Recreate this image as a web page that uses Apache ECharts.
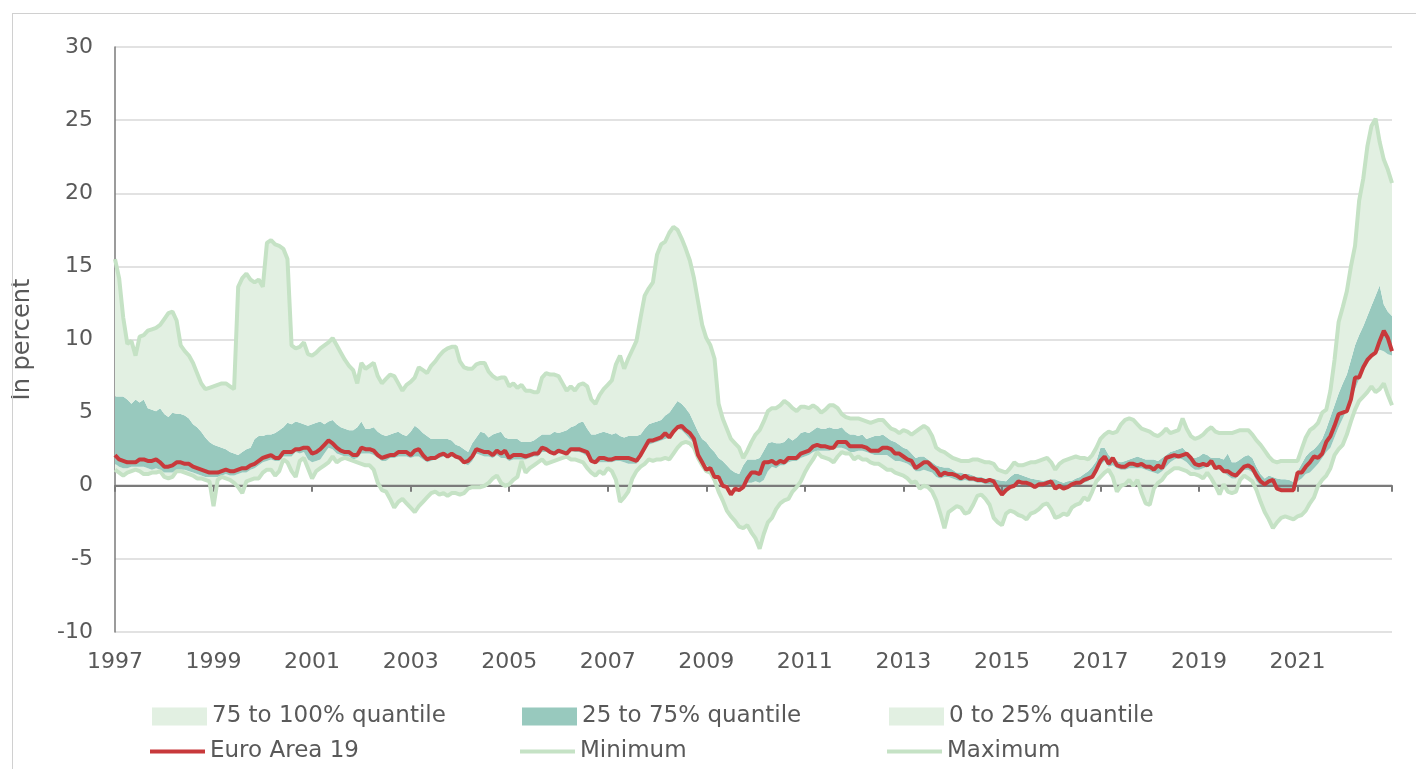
<!DOCTYPE html>
<html><head><meta charset="utf-8">
<script src="https://cdn.jsdelivr.net/npm/echarts@6/dist/echarts.min.js"></script>
<style>html,body{margin:0;padding:0;background:#fff}#c{position:absolute;left:0;top:0;width:1416px;height:769px}
#frame{position:absolute;left:12px;top:13px;width:1420px;height:780px;border-left:1px solid #d0d0d0;border-top:1px solid #d0d0d0;pointer-events:none}</style>
</head><body><div id="c"></div><div id="frame"></div>
<script>
// Monthly data, Jan 1997 .. Dec 2022
const firstYear = 1997, lastYear = 2022;
const yAxisMin = -10, yAxisMax = 30, yAxisStep = 5;

const euroArea = [
2.1,1.8,1.7,1.6,1.6,1.6,1.8,1.8,1.7,1.7,1.8,1.6,
1.3,1.3,1.4,1.6,1.6,1.5,1.5,1.3,1.2,1.1,1.0,0.9,
0.9,0.9,1.0,1.1,1.0,1.0,1.1,1.2,1.2,1.4,1.5,1.7,
1.9,2.0,2.1,1.9,1.9,2.3,2.3,2.3,2.5,2.5,2.6,2.6,
2.2,2.3,2.5,2.8,3.1,2.9,2.6,2.4,2.3,2.3,2.1,2.1,
2.6,2.5,2.5,2.4,2.1,1.9,2.0,2.1,2.1,2.3,2.3,2.3,
2.1,2.4,2.5,2.1,1.8,1.9,1.9,2.1,2.2,2.0,2.2,2.0,
1.9,1.6,1.7,2.0,2.5,2.4,2.3,2.3,2.1,2.4,2.2,2.4,
1.9,2.1,2.1,2.1,2.0,2.1,2.2,2.2,2.6,2.5,2.3,2.2,
2.4,2.3,2.2,2.5,2.5,2.5,2.4,2.3,1.7,1.6,1.9,1.9,
1.8,1.8,1.9,1.9,1.9,1.9,1.8,1.7,2.1,2.6,3.1,3.1,
3.2,3.3,3.6,3.3,3.7,4.0,4.1,3.8,3.6,3.2,2.1,1.6,
1.1,1.2,0.6,0.6,0.0,-0.1,-0.6,-0.2,-0.3,-0.1,0.5,0.9,
0.9,0.8,1.6,1.6,1.7,1.5,1.7,1.6,1.9,1.9,1.9,2.2,
2.3,2.4,2.7,2.8,2.7,2.7,2.6,2.6,3.0,3.0,3.0,2.7,
2.7,2.7,2.7,2.6,2.4,2.4,2.4,2.6,2.6,2.5,2.2,2.2,
2.0,1.8,1.7,1.2,1.4,1.6,1.6,1.3,1.1,0.7,0.9,0.8,
0.8,0.7,0.5,0.7,0.5,0.5,0.4,0.4,0.3,0.4,0.3,-0.2,
-0.6,-0.3,-0.1,0.0,0.3,0.2,0.2,0.1,-0.1,0.1,0.1,0.2,
0.3,-0.2,0.0,-0.2,-0.1,0.1,0.2,0.2,0.4,0.5,0.6,1.1,
1.7,2.0,1.5,1.9,1.4,1.3,1.3,1.5,1.5,1.4,1.5,1.3,
1.3,1.1,1.4,1.2,1.9,2.0,2.1,2.0,2.1,2.2,1.9,1.5,
1.4,1.5,1.4,1.7,1.2,1.3,1.0,1.0,0.8,0.7,1.0,1.3,
1.4,1.2,0.7,0.3,0.1,0.3,0.4,-0.2,-0.3,-0.3,-0.3,-0.3,
0.9,0.9,1.3,1.6,2.0,1.9,2.2,3.0,3.4,4.1,4.9,5.0,
5.1,5.9,7.4,7.4,8.1,8.6,8.9,9.1,9.9,10.6,10.1,9.2
];

const minimum = [
1.1,0.9,0.7,0.9,1.0,1.1,1.0,0.8,0.8,0.9,0.9,1.0,
0.6,0.5,0.6,1.0,1.0,0.9,0.8,0.7,0.5,0.5,0.4,0.3,
-1.4,0.4,0.6,0.5,0.4,0.2,-0.1,-0.5,0.3,0.4,0.5,0.5,
0.9,1.1,1.1,0.7,1.0,1.8,1.6,1.0,0.6,1.7,1.9,1.2,
0.5,1.0,1.2,1.4,1.6,2.0,1.6,1.8,1.9,1.8,1.7,1.6,
1.5,1.4,1.4,1.1,0.2,-0.3,-0.4,-0.9,-1.5,-1.1,-0.9,-1.2,
-1.5,-1.8,-1.4,-1.1,-0.8,-0.5,-0.4,-0.6,-0.5,-0.7,-0.5,-0.5,
-0.6,-0.5,-0.2,-0.1,-0.1,-0.1,0.0,0.2,0.5,0.7,0.2,0.0,
0.1,0.4,0.6,1.7,0.9,1.2,1.4,1.6,1.8,1.5,1.6,1.7,
1.8,1.9,2.0,1.8,1.8,1.7,1.6,1.2,0.9,0.7,1.0,0.8,
1.2,1.0,0.4,-1.1,-0.8,-0.4,0.5,1.0,1.3,1.5,1.8,1.7,
1.8,1.8,1.9,1.8,2.2,2.6,2.9,3.0,2.9,2.6,1.9,1.4,
1.0,0.9,0.4,-0.4,-1.0,-1.7,-2.1,-2.4,-2.8,-2.9,-2.7,-3.2,
-3.6,-4.3,-3.3,-2.5,-2.2,-1.6,-1.2,-1.0,-0.9,-0.4,-0.1,0.3,
0.9,1.4,1.8,2.3,2.0,1.9,1.8,1.6,2.0,2.3,2.2,2.2,
1.8,2.0,1.8,1.8,1.6,1.5,1.5,1.3,1.1,1.1,0.9,0.8,
0.7,0.5,0.2,0.3,-0.2,0.0,-0.1,-0.4,-1.0,-1.9,-2.9,-1.8,
-1.6,-1.4,-1.5,-1.9,-1.8,-1.3,-0.7,-0.6,-0.9,-1.3,-2.2,-2.5,
-2.7,-1.9,-1.7,-1.8,-2.0,-2.1,-2.3,-1.9,-1.8,-1.6,-1.3,-1.2,
-1.6,-2.2,-2.1,-1.9,-2.0,-1.5,-1.3,-1.2,-0.8,-1.0,-0.4,0.3,
0.6,0.9,1.1,0.6,-0.4,0.0,0.1,0.4,0.0,0.4,-0.5,-1.2,
-1.3,-0.2,0.2,0.4,0.8,1.0,1.2,1.2,1.1,1.0,0.8,0.8,
0.7,0.5,0.9,0.5,0.0,-0.6,0.1,-0.4,-0.5,-0.4,0.4,0.7,
0.5,0.3,-0.3,-1.1,-1.8,-2.3,-2.9,-2.5,-2.2,-2.1,-2.2,-2.3,
-2.1,-2.0,-1.7,-1.2,-0.8,0.0,0.4,0.7,1.2,2.1,2.5,2.8,
3.5,4.4,5.2,5.8,6.1,6.4,6.8,6.4,6.6,7.0,6.2,5.5
];

const quantile25 = [
1.5,1.3,1.2,1.2,1.3,1.3,1.3,1.3,1.2,1.1,1.2,1.1,
0.9,0.9,0.9,1.1,1.1,1.1,1.0,0.9,0.8,0.7,0.6,0.6,
0.6,0.6,0.7,0.8,0.7,0.7,0.8,0.9,0.9,1.1,1.2,1.4,
1.6,1.7,1.8,1.7,1.7,2.0,2.0,2.0,2.3,2.2,2.3,1.8,
1.6,1.7,1.8,2.2,2.6,2.5,2.2,2.1,2.0,2.0,1.8,1.9,
2.2,2.2,2.2,2.1,1.9,1.7,1.7,1.9,1.9,2.0,2.0,2.0,
1.9,2.0,2.0,1.8,1.6,1.7,1.8,1.9,2.0,1.9,2.0,1.9,
1.7,1.5,1.4,1.7,2.2,2.1,2.0,2.0,1.9,2.1,1.9,1.9,
1.7,1.8,1.8,1.8,1.8,1.9,2.0,2.0,2.3,2.3,2.2,2.1,
2.2,2.2,2.2,2.4,2.3,2.3,2.2,2.0,1.6,1.5,1.6,1.6,
1.6,1.6,1.7,1.7,1.6,1.5,1.5,1.5,1.9,2.4,2.8,2.9,
3.0,3.1,3.2,3.3,3.6,3.9,3.8,3.5,3.2,2.9,2.3,1.8,
1.4,1.1,0.7,0.4,0.1,0.1,0.0,-0.1,-0.1,0.1,0.2,0.2,
0.3,0.2,0.4,1.0,1.3,1.2,1.4,1.4,1.6,1.7,1.7,1.9,
2.0,2.1,2.3,2.4,2.4,2.4,2.4,2.5,2.6,2.6,2.5,2.3,
2.3,2.4,2.4,2.3,2.2,2.1,2.1,2.1,2.1,1.9,1.7,1.7,
1.6,1.5,1.3,1.0,1.0,1.1,1.0,0.9,0.6,0.5,0.6,0.6,
0.5,0.4,0.3,0.4,0.3,0.3,0.2,0.2,0.1,0.1,0.0,-0.3,
-0.6,-0.3,-0.1,-0.1,0.1,0.1,0.0,-0.1,-0.2,-0.1,-0.1,0.0,
0.0,-0.3,-0.2,-0.3,-0.2,-0.1,0.0,0.1,0.2,0.3,0.6,0.9,
1.4,1.7,1.3,1.4,1.2,1.1,1.1,1.2,1.2,1.2,1.2,1.1,
1.0,0.9,0.8,1.0,1.3,1.6,1.8,1.9,1.8,1.6,1.3,1.1,
1.1,1.2,1.3,1.4,1.1,1.1,0.9,0.7,0.5,0.5,0.9,1.1,
1.1,0.9,0.3,0.0,-0.1,0.0,0.0,-0.2,-0.3,-0.3,-0.3,-0.3,
0.3,0.5,0.8,0.9,1.2,1.5,1.9,2.3,2.6,3.3,4.0,4.6,
5.2,5.9,6.6,7.3,7.9,8.4,8.8,9.0,9.3,9.2,9.0,8.9
];

const quantile75 = [
6.1,6.1,6.1,5.9,5.6,5.9,5.7,5.9,5.3,5.2,5.1,5.3,
4.9,4.7,5.0,4.9,4.9,4.8,4.6,4.2,4.0,3.7,3.3,3.0,
2.8,2.7,2.6,2.5,2.3,2.2,2.1,2.3,2.5,2.6,3.2,3.4,
3.4,3.5,3.5,3.6,3.8,4.0,4.3,4.2,4.4,4.3,4.2,4.1,
4.2,4.3,4.4,4.2,4.4,4.5,4.2,4.0,3.9,3.8,3.8,4.0,
4.4,3.9,3.9,4.0,3.7,3.5,3.4,3.5,3.6,3.7,3.5,3.4,
3.7,4.1,3.9,3.6,3.4,3.2,3.2,3.2,3.2,3.2,3.1,2.8,
2.7,2.5,2.3,2.9,3.3,3.7,3.6,3.3,3.5,3.6,3.7,3.3,
3.2,3.2,3.2,3.0,3.0,3.0,3.1,3.3,3.5,3.5,3.5,3.7,
3.6,3.7,3.8,4.0,4.1,4.3,4.4,3.9,3.5,3.5,3.6,3.7,
3.6,3.5,3.6,3.4,3.3,3.4,3.4,3.4,3.5,3.9,4.2,4.3,
4.4,4.5,4.8,5.0,5.4,5.8,5.6,5.3,4.9,4.3,3.7,3.2,
3.0,2.6,2.3,1.9,1.7,1.4,1.1,0.9,0.8,1.4,1.8,1.8,
1.8,1.9,2.4,2.9,3.0,2.9,2.9,3.0,3.3,3.1,3.3,3.6,
3.7,3.6,3.8,4.0,3.9,3.9,4.0,3.9,3.9,4.0,3.7,3.5,
3.5,3.4,3.5,3.2,3.3,3.4,3.4,3.5,3.3,3.1,3.0,2.8,
2.6,2.5,2.2,1.9,2.0,2.0,1.8,1.6,1.4,1.3,1.25,1.25,
1.1,0.9,0.9,0.8,0.8,0.7,0.6,0.6,0.5,0.5,0.5,0.4,
0.35,0.3,0.6,0.8,0.8,0.7,0.6,0.5,0.45,0.4,0.35,0.4,
0.45,0.45,0.3,0.2,0.3,0.35,0.5,0.6,0.8,1.0,1.3,1.7,
2.6,2.6,2.1,1.8,1.7,1.6,1.7,1.8,1.9,2.0,1.9,1.8,
1.8,1.8,1.7,1.9,2.1,2.3,2.4,2.5,2.6,2.3,1.9,1.9,
2.0,2.2,2.1,1.9,1.9,1.9,1.8,2.2,1.6,1.6,1.8,2.0,
2.1,1.9,1.3,0.8,0.5,0.7,0.6,0.5,0.45,0.45,0.4,0.25,
1.0,1.5,2.0,2.3,2.5,2.8,3.2,3.9,4.7,5.5,6.3,7.0,
7.6,8.6,9.6,10.3,10.9,11.6,12.3,13.0,13.7,12.4,11.9,11.6
];

const maximum = [
15.5,14.2,11.5,9.7,9.9,8.9,10.2,10.3,10.6,10.7,10.8,11.0,
11.4,11.8,11.9,11.3,9.6,9.2,8.9,8.4,7.7,7.0,6.6,6.7,
6.8,6.9,7.0,7.0,6.8,6.6,13.6,14.2,14.5,14.1,13.9,14.1,
13.6,16.6,16.8,16.5,16.4,16.2,15.5,9.6,9.4,9.5,9.8,9.0,
8.9,9.1,9.4,9.6,9.8,10.1,9.6,9.1,8.6,8.2,7.9,7.0,
8.4,8.0,8.2,8.4,7.5,7.0,7.3,7.6,7.5,7.0,6.5,6.9,
7.1,7.4,8.1,7.9,7.7,8.2,8.5,8.9,9.2,9.4,9.5,9.5,
8.5,8.1,8.0,8.0,8.3,8.4,8.4,7.8,7.5,7.3,7.4,7.4,
6.8,7.0,6.7,6.9,6.5,6.5,6.4,6.4,7.4,7.7,7.6,7.6,
7.5,7.0,6.5,6.8,6.5,6.9,7.0,6.8,5.9,5.6,6.2,6.6,
6.9,7.2,8.3,8.9,8.0,8.7,9.3,9.9,11.5,13.0,13.5,13.9,
15.8,16.5,16.7,17.3,17.7,17.5,16.9,16.2,15.4,14.2,12.6,11.0,
10.1,9.6,8.7,5.6,4.6,3.9,3.2,2.9,2.6,1.9,2.4,3.0,
3.5,3.8,4.4,5.1,5.3,5.3,5.5,5.8,5.6,5.3,5.1,5.4,
5.4,5.3,5.5,5.3,5.0,5.2,5.5,5.5,5.3,4.9,4.7,4.6,
4.6,4.6,4.5,4.4,4.3,4.4,4.5,4.5,4.2,3.9,3.8,3.6,
3.8,3.7,3.5,3.7,3.9,4.1,3.9,3.4,2.6,2.4,2.3,2.1,
1.9,1.8,1.7,1.7,1.7,1.8,1.8,1.7,1.6,1.6,1.5,1.1,
1.0,0.9,1.2,1.6,1.4,1.4,1.5,1.6,1.6,1.7,1.8,1.9,
1.6,1.1,1.5,1.7,1.8,1.9,2.0,1.9,1.9,1.8,2.1,2.6,
3.2,3.5,3.7,3.6,3.7,4.2,4.5,4.6,4.5,4.2,3.9,3.8,
3.7,3.5,3.4,3.6,3.9,3.6,3.7,3.8,4.6,3.9,3.4,3.2,
3.3,3.5,3.8,4.0,3.7,3.6,3.6,3.6,3.6,3.7,3.8,3.8,
3.8,3.5,3.1,2.8,2.4,2.0,1.7,1.6,1.7,1.7,1.7,1.7,
1.7,2.5,3.3,3.8,4.0,4.3,5.0,5.2,6.5,8.6,11.2,12.2,
13.3,15.0,16.4,19.5,21.0,23.2,24.6,25.1,23.5,22.3,21.6,20.7
];

const legendNames = ['75 to 100% quantile','25 to 75% quantile','0 to 25% quantile','Euro Area 19','Minimum','Maximum'];

// ---- build ----
const months = [];
for (let y = firstYear; y <= lastYear; y++) for (let m = 1; m <= 12; m++) months.push(y + '-' + (m < 10 ? '0' + m : m));
const band1 = quantile25.map((v, i) => +(v - minimum[i]).toFixed(3));
const band2 = quantile75.map((v, i) => +(v - quantile25[i]).toFixed(3));
const band3 = maximum.map((v, i) => +(v - quantile75[i]).toFixed(3));

const LIGHT = '#e2f0e2', TEAL = '#98c9be', LINEG = '#c5e2c5', RED = '#c8393b', TXT = '#595959', AXIS = '#7a7a7a';
const FONT = 'DejaVu Sans';

const chart = echarts.init(document.getElementById('c'), null, {renderer: 'canvas'});
function legendAt(name, left, top, color, isLine) {
  return {
    data: [{name: name, icon: 'rect', itemStyle: {color: color}}],
    left: left, top: top, itemWidth: 55, itemHeight: isLine ? 4 : 18,
    selectedMode: false, padding: 0,
    textStyle: {fontFamily: FONT, fontSize: 23, color: TXT}
  };
}
const areaBase = {type: 'line', stack: 'band', stackStrategy: 'all', symbol: 'none', showSymbol: false,
  lineStyle: {opacity: 0, width: 0}, silent: true, z: 2};

chart.setOption({
  animation: false,
  backgroundColor: 'transparent',
  textStyle: {fontFamily: FONT},
  grid: {left: 115, right: 24, top: 47, bottom: 137, containLabel: false},
  legend: [
    legendAt(legendNames[0], 152, 705, LIGHT, false),
    legendAt(legendNames[1], 522, 705, TEAL, false),
    legendAt(legendNames[2], 889, 705, LIGHT, false),
    legendAt(legendNames[3], 150, 740, RED, true),
    legendAt(legendNames[4], 520, 740, LINEG, true),
    legendAt(legendNames[5], 887, 740, LINEG, true)
  ],
  xAxis: {type: 'category', data: months, boundaryGap: false, position: 'bottom', z: 3,
     axisLine: {show: true, onZero: true, lineStyle: {color: AXIS, width: 2}},
     axisTick: {show: true, length: 6, interval: (i) => i % 24 === 0 || i === months.length - 1, lineStyle: {color: AXIS, width: 2}},
     axisLabel: {interval: 23, formatter: v => v.slice(0, 4), fontFamily: FONT, fontSize: 22, color: TXT, margin: 19},
     splitLine: {show: false}},
  yAxis: {type: 'value', min: yAxisMin, max: yAxisMax, interval: yAxisStep,
    name: 'In percent', nameLocation: 'middle', nameGap: 80, nameRotate: 90,
    nameTextStyle: {fontFamily: FONT, fontSize: 24, color: TXT},
    axisLine: {show: true, lineStyle: {color: AXIS, width: 1.5}}, axisTick: {show: false},
    axisLabel: {fontFamily: FONT, fontSize: 22, color: TXT, margin: 22},
    splitLine: {show: true, lineStyle: {color: '#d9d9d9', width: 1.5}}},
  series: [
    Object.assign({}, areaBase, {name: '_base', data: minimum}),
    Object.assign({}, areaBase, {name: legendNames[2], data: band1, color: LIGHT, areaStyle: {color: LIGHT, opacity: 1}}),
    Object.assign({}, areaBase, {name: legendNames[1], data: band2, color: TEAL, areaStyle: {color: TEAL, opacity: 1}}),
    Object.assign({}, areaBase, {name: legendNames[0], data: band3, color: LIGHT, areaStyle: {color: LIGHT, opacity: 1}}),
    {name: '_zeroLine', type: 'line', silent: true, symbol: 'none', z: 2.5,
     data: [[months[0], 0], [months[months.length - 1], 0]],
     lineStyle: {color: AXIS, width: 2}},
    {name: legendNames[4], type: 'line', data: minimum, symbol: 'none', color: LINEG, lineStyle: {color: LINEG, width: 4}, z: 3},
    {name: legendNames[5], type: 'line', data: maximum, symbol: 'none', color: LINEG, lineStyle: {color: LINEG, width: 4}, z: 3},
    {name: legendNames[3], type: 'line', data: euroArea, symbol: 'none', color: RED, lineStyle: {color: RED, width: 4}, z: 4}
  ]
});
</script></body></html>
